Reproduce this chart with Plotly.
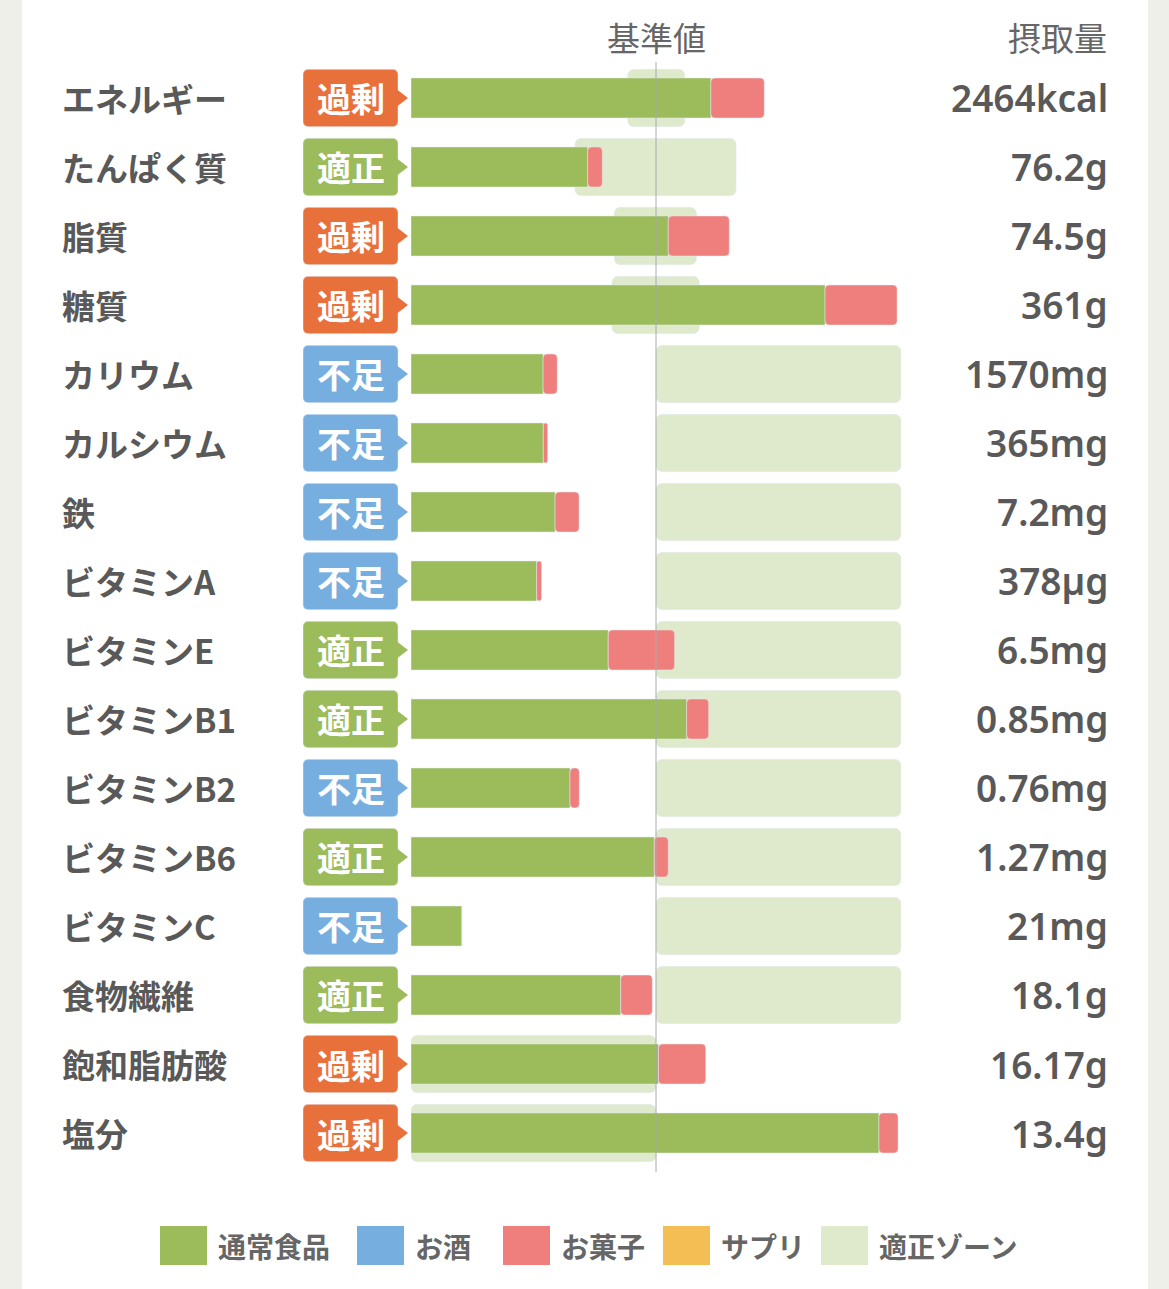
import plotly.graph_objects as go

W, H = 1169, 1289

nutrients = ["エネルギー", "たんぱく質", "脂質", "糖質", "カリウム", "カルシウム", "鉄",
             "ビタミンA", "ビタミンE", "ビタミンB1", "ビタミンB2", "ビタミンB6", "ビタミンC",
             "食物繊維", "飽和脂肪酸", "塩分"]
intake_labels = ["2464kcal", "76.2g", "74.5g", "361g", "1570mg", "365mg", "7.2mg", "378µg",
                 "6.5mg", "0.85mg", "0.76mg", "1.27mg", "21mg", "18.1g", "16.17g", "13.4g"]
status = ["過剰", "適正", "過剰", "過剰", "不足", "不足", "不足", "不足",
          "適正", "適正", "不足", "適正", "不足", "適正", "過剰", "過剰"]

# intake as % of the reference value (基準値 = 100)
food_pct = [122.4, 72.1, 105.0, 169.0, 53.9, 54.0, 58.8, 51.3,
            80.5, 112.5, 64.9, 99.3, 20.8, 85.6, 101.0, 191.0]
snack_pct = [21.8, 6.0, 24.9, 29.4, 5.8, 1.8, 9.8, 2.0,
             27.1, 9.0, 3.8, 5.7, 0.0, 12.9, 19.3, 7.8]
zone_low = [88.4, 66.9, 82.9, 82.0, 100, 100, 100, 100,
            100, 100, 100, 100, 100, 100, 0, 0]
zone_high = [111.8, 132.7, 116.6, 117.7, 200, 200, 200, 200,
             200, 200, 200, 200, 200, 200, 100, 100]

legend_names = ["通常食品", "お酒", "お菓子", "サプリ", "適正ゾーン"]

GREEN = "#9cbb5b"
PINK = "#ee7f7c"
BLUE = "#77aee0"
ORANGE = "#f5be55"
ZONE = "#dfe9cc"
badge_colors = {"過剰": "#e8703b", "適正": "#9cbb5b", "不足": "#77aee0"}
TEXT = "#595959"
FONT = "Noto Sans CJK JP"

def px_x(p):
    return p / W

def px_y(p):
    return 1 - p / H

fig = go.Figure()

# appropriate zone behind the bars
fig.add_trace(go.Bar(
    y=nutrients, x=[h - l for l, h in zip(zone_low, zone_high)], base=zone_low,
    orientation="h", width=0.83, marker=dict(color=ZONE, cornerradius=6),
    hoverinfo="skip", showlegend=False))

# intake bars
fig.add_trace(go.Bar(
    y=nutrients, x=food_pct, base=0, orientation="h", width=0.58,
    marker=dict(color=GREEN), name="通常食品", showlegend=False))
fig.add_trace(go.Bar(
    y=nutrients, x=snack_pct, base=food_pct, orientation="h", width=0.58,
    marker=dict(color=PINK, cornerradius=4), name="お菓子", showlegend=False))

# status badges on their own x axis
badge_cols = [badge_colors[s] for s in status]
fig.add_trace(go.Bar(
    y=nutrients, x=[1] * len(status), base=0, orientation="h", width=0.83,
    marker=dict(color=badge_cols, cornerradius=5), xaxis="x2",
    hoverinfo="skip", showlegend=False))
fig.add_trace(go.Scatter(
    y=nutrients, x=[1.0] * len(status), mode="markers", xaxis="x2",
    marker=dict(symbol="triangle-right", size=20, color=badge_cols, line=dict(width=0)),
    cliponaxis=False, hoverinfo="skip", showlegend=False))

x0, x100 = 411, 656
x_end = x0 + (x100 - x0) * 2
row0, step = 98, 69
top = row0 - step / 2
bottom = row0 + step * (len(nutrients) - 0.5)

fig.update_layout(
    width=W, height=H,
    margin=dict(l=0, r=0, t=0, b=0),
    paper_bgcolor="#efefea",
    plot_bgcolor="rgba(0,0,0,0)",
    barmode="overlay",
    xaxis=dict(domain=[px_x(x0), px_x(x_end)], range=[0, 200], visible=False, fixedrange=True),
    xaxis2=dict(domain=[px_x(303), px_x(412)], range=[0, 109 / 95], visible=False,
                anchor="y", fixedrange=True),
    yaxis=dict(domain=[px_y(bottom), px_y(top)], range=[len(nutrients) - 0.5, -0.5],
               visible=False, fixedrange=True),
    font=dict(family=FONT, color=TEXT),
)

shapes = [
    # white card
    dict(type="rect", xref="paper", yref="paper", x0=px_x(22), x1=px_x(1148), y0=0, y1=1,
         fillcolor="white", line=dict(width=0), layer="below"),
    # reference line
    dict(type="line", xref="x", yref="paper", x0=100, x1=100, y0=px_y(1172), y1=px_y(62),
         line=dict(color="#aaaaaa", width=1)),
]

annotations = [
    dict(text="基準値", x=px_x(x100), y=px_y(37), xref="paper", yref="paper",
         showarrow=False, xanchor="center", yanchor="middle",
         font=dict(size=33, color="#666666")),
    dict(text="摂取量", x=px_x(1109), y=px_y(37), xref="paper", yref="paper",
         showarrow=False, xanchor="right", yanchor="middle",
         font=dict(size=33, color="#666666")),
]
for name, val, st in zip(nutrients, intake_labels, status):
    annotations.append(dict(text=name, x=px_x(60), y=name, xref="paper", yref="y",
                            showarrow=False, xanchor="left", yanchor="middle",
                            font=dict(size=33, color=TEXT, weight="bold")))
    annotations.append(dict(text=val, x=px_x(1110), y=name, xref="paper", yref="y",
                            showarrow=False, xanchor="right", yanchor="middle",
                            font=dict(family="Noto Sans", size=37, color=TEXT, weight=600)))
    annotations.append(dict(text=st, x=0.5, y=name, xref="x2", yref="y",
                            showarrow=False, xanchor="center", yanchor="middle",
                            font=dict(size=34, color="white", weight="bold")))

# legend drawn as boxes + labels
legend_colors = [GREEN, BLUE, PINK, ORANGE, ZONE]
legend_x = [160, 357, 503, 663, 821]
for name, col, lx in zip(legend_names, legend_colors, legend_x):
    shapes.append(dict(type="rect", xref="paper", yref="paper",
                       x0=px_x(lx), x1=px_x(lx + 47), y0=px_y(1265), y1=px_y(1226),
                       fillcolor=col, line=dict(width=0)))
    annotations.append(dict(text=name, x=px_x(lx + 56), y=px_y(1246), xref="paper", yref="paper",
                            showarrow=False, xanchor="left", yanchor="middle",
                            font=dict(size=28, color="#666666", weight="bold")))

fig.update_layout(shapes=shapes, annotations=annotations)

fig.write_html("out.html", config={"displayModeBar": False},
               post_script="document.body.style.margin='0';")
